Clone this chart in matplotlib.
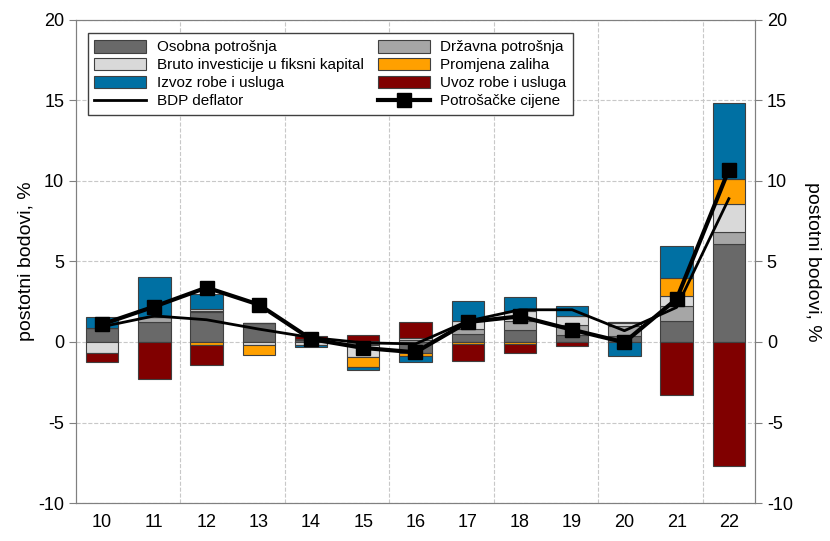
import numpy as np
import matplotlib.pyplot as plt
from matplotlib.ticker import FixedLocator

plt.rcParams['font.family'] = ['Liberation Sans', 'DejaVu Sans']
plt.rcParams['axes.unicode_minus'] = False

godine = [10, 11, 12, 13, 14, 15, 16, 17, 18, 19, 20, 21, 22]
oznake = [str(g) for g in godine]

# doprinosi, postotni bodovi
osobna   = [0.89, 1.26, 1.88, 1.16, 0.10, -0.17, -0.68, 0.50, 0.77, 0.46, 0.35, 1.33, 6.09]
drzavna  = [0.00, 0.29, 0.05, 0.00, 0.00, 0.08, 0.10, 0.31, 0.52, 0.62, 0.62, 0.89, 0.72]
bruto    = [-0.66, 0.00, 0.12, -0.20, -0.16, -0.75, 0.14, 0.48, 0.62, 0.52, 0.20, 0.62, 1.76]
promjena = [0.00, 0.00, -0.20, -0.62, 0.08, -0.62, -0.22, -0.10, -0.12, 0.00, 0.10, 1.14, 1.55]
izvoz    = [0.68, 2.48, 0.93, 0.00, -0.15, -0.18, -0.37, 1.28, 0.89, 0.62, -0.85, 1.97, 4.72]
uvoz     = [-0.58, -2.28, -1.22, 0.00, 0.20, 0.37, 1.00, -1.05, -0.56, -0.22, 0.00, -3.27, -7.72]

bdp_deflator = [0.95, 1.62, 1.38, 0.80, 0.28, -0.05, -0.12, 1.30, 2.00, 2.00, 0.70, 2.15, 8.90]
potrosacke = [1.10, 2.20, 3.38, 2.32, 0.18, -0.37, -0.64, 1.24, 1.59, 0.76, -0.02, 2.67, 10.70]

serije = [
    ('Osobna potrošnja', osobna, '#696969'),
    ('Državna potrošnja', drzavna, '#a6a6a6'),
    ('Bruto investicije u fiksni kapital', bruto, '#d9d9d9'),
    ('Promjena zaliha', promjena, '#ffa000'),
    ('Izvoz robe i usluga', izvoz, '#0070a3'),
    ('Uvoz robe i usluga', uvoz, '#800000'),
]

fig = plt.figure(figsize=(8.3, 5.41), dpi=100)
ax = fig.add_axes([0.0916, 0.0702, 0.818, 0.893])

x = np.array(godine)
poz = np.zeros(len(x))
neg = np.zeros(len(x))
handles = {}
for ime, vrij, boja in serije:
    v = np.array(vrij)
    dno = np.where(v >= 0, poz, neg)
    b = ax.bar(x, v, 0.62, bottom=dno, color=boja, edgecolor='#404040',
               linewidth=0.8, label=ime, zorder=3)
    handles[ime] = b
    poz = poz + np.where(v > 0, v, 0)
    neg = neg + np.where(v < 0, v, 0)

l1, = ax.plot(x, bdp_deflator, color='black', lw=2, zorder=4, label='BDP deflator')
l2, = ax.plot(x, potrosacke, color='black', lw=3, marker='s', ms=10,
              zorder=5, label='Potrošačke cijene')

ax.set_xlim(9.5, 22.5)
ax.set_ylim(-10, 20)
ax.set_yticks([-10, -5, 0, 5, 10, 15, 20])
ax.set_xticks(x)
ax.set_xticklabels(oznake)
ax.xaxis.set_minor_locator(FixedLocator([11.5, 13.5, 15.5, 17.5, 19.5, 21.5]))
ax.grid(True, axis='y', color='#c8c8c8', linestyle='--', lw=0.8, zorder=0)
ax.grid(True, axis='x', which='minor', color='#c8c8c8', linestyle='--', lw=0.8, zorder=0)
ax.tick_params(axis='x', which='both', length=0, labelsize=13, pad=8)
ax.tick_params(axis='y', labelsize=13, direction='out', length=5, color='#808080')
ax.set_ylabel('postotni bodovi, %', fontsize=14, labelpad=2)
for s in ax.spines.values():
    s.set_color('#808080')

ax2 = ax.twinx()
ax2.set_ylim(-10, 20)
ax2.set_yticks([-10, -5, 0, 5, 10, 15, 20])
ax2.tick_params(axis='y', labelsize=13, direction='out', length=5, color='#808080')
ax2.set_ylabel('postotni bodovi, %', fontsize=14, rotation=270, labelpad=20)
for s in ax2.spines.values():
    s.set_color('#808080')

redoslijed = [handles['Osobna potrošnja'], handles['Bruto investicije u fiksni kapital'],
              handles['Izvoz robe i usluga'], l1,
              handles['Državna potrošnja'], handles['Promjena zaliha'],
              handles['Uvoz robe i usluga'], l2]
tekst = [h.get_label() for h in redoslijed]
leg = ax.legend(redoslijed, tekst, ncol=2, loc='upper left', bbox_to_anchor=(0.017, 0.973),
                borderaxespad=0, fontsize=11, frameon=True, fancybox=False,
                edgecolor='#404040', handlelength=3.4, handleheight=0.9,
                labelspacing=0.22, columnspacing=0.9, borderpad=0.45,
                handletextpad=0.7, framealpha=1)
leg.get_frame().set_linewidth(1.0)
leg.set_zorder(10)

fig.savefig('out.png', dpi=100)
